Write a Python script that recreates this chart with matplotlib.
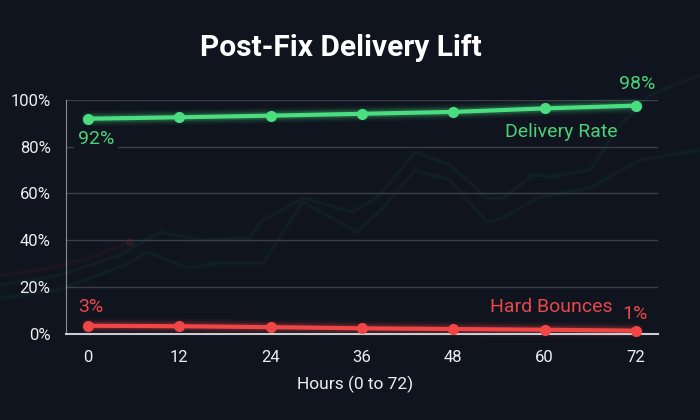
import matplotlib
matplotlib.use('Agg')
import matplotlib.pyplot as plt
import numpy as np

# chart data
hours = [0, 12, 24, 36, 48, 60, 72]
delivery_rate = [92, 92.6, 93.3, 94.1, 94.9, 96.4, 97.6]
hard_bounces = [3.4, 3.2, 2.8, 2.3, 2.0, 1.7, 1.3]
y_ticks = [0, 20, 40, 60, 80, 100]

# faint decorative background lines (figure pixels)
deco_a_x = [0, 58, 125, 147, 188, 219, 250, 263, 303, 357, 383, 415, 450, 487, 503, 537, 550, 590, 640, 700]
deco_a_y = [298, 290, 265, 252, 268, 263, 263, 263, 202, 232, 208, 170, 180, 222, 218, 198, 195, 188, 160, 150]
deco_b_x = [0, 60, 120, 160, 200, 250, 260, 303, 353, 380, 415, 450, 487, 503, 533, 550, 590, 620, 650, 700]
deco_b_y = [285, 275, 255, 232, 240, 238, 222, 198, 212, 195, 152, 165, 198, 198, 175, 177, 170, 125, 95, 75]
deco_r_x = [0, 40, 90, 130]
deco_r_y = [275, 270, 258, 242]

BG = '#0f141e'
GREEN = '#4ade80'
GREEN_TXT = '#4cd07a'
RED = '#f04646'
RED_TXT = '#e8484c'
TXT = '#eceef1'

plt.rcParams['font.family'] = ['Roboto', 'DejaVu Sans']

fig = plt.figure(figsize=(7, 4.2), dpi=100, facecolor=BG)

bg = fig.add_axes([0, 0, 1, 1], zorder=-1)
bg.set_facecolor(BG)
bg.set_xlim(0, 700)
bg.set_ylim(420, 0)
bg.axis('off')
for lw, a in [(6, 0.025), (2, 0.08)]:
    bg.plot(deco_a_x, deco_a_y, color='#2f8f72', lw=lw, alpha=a)
    bg.plot(deco_b_x, deco_b_y, color='#2f8f72', lw=lw, alpha=a)
    bg.plot(deco_r_x, deco_r_y, color='#a03a3a', lw=lw, alpha=a)
bg.plot(deco_r_x[-1:], deco_r_y[-1:], 'o', color='#a03a3a', ms=5, alpha=0.15)

ax = fig.add_axes([66/700, 1 - 333.7/420, 592/700, 233.7/420])
ax.set_facecolor('none')
ax.set_xlim(-2.89, 74.9)
ax.set_ylim(0, 100)
ax.set_xticks(hours)
ax.set_yticks(y_ticks)
ax.set_yticklabels([f'{v}%' for v in y_ticks])
ax.tick_params(length=0, colors=TXT, labelsize=12)
ax.tick_params(axis='x', pad=12)
ax.tick_params(axis='y', pad=11)
ax.yaxis.grid(True, color='#3a404b', lw=1)
ax.set_axisbelow(True)
for s in ['top', 'right']:
    ax.spines[s].set_visible(False)
ax.spines['left'].set_color('#8a9099')
ax.spines['bottom'].set_color('#c9cdd3')
ax.spines['bottom'].set_linewidth(1.5)

for vals, col in [(delivery_rate, GREEN), (hard_bounces, RED)]:
    for lw, a in [(11, 0.06), (8, 0.1), (5.5, 0.18)]:
        ax.plot(hours, vals, color=col, lw=lw, alpha=a, solid_capstyle='round', clip_on=False)
    ax.plot(hours, vals, color=col, lw=3, marker='o', ms=7, clip_on=False, zorder=4)

lbl = dict(textcoords='offset pixels', ha='center', va='center', fontsize=14)
ax.annotate(f'{delivery_rate[0]:.0f}%', (hours[0], delivery_rate[0]), xytext=(8, -20), color=GREEN_TXT,
            bbox=dict(boxstyle='square,pad=0.2', fc=BG, ec='none'), zorder=5, **lbl)
ax.annotate(f'{delivery_rate[-1]:.0f}%', (hours[-1], delivery_rate[-1]), xytext=(1, 22), color=GREEN_TXT, **lbl)
ax.annotate(f'{hard_bounces[0]:.0f}%', (hours[0], hard_bounces[0]), xytext=(3, 19), color=RED_TXT, **lbl)
ax.annotate(f'{hard_bounces[-1]:.0f}%', (hours[-1], hard_bounces[-1]), xytext=(-1, 17), color=RED_TXT, **lbl)
ax.text(69.6, 86.3, 'Delivery Rate', ha='right', va='center', color=GREEN_TXT, fontsize=14)
ax.text(68.9, 11.6, 'Hard Bounces', ha='right', va='center', color=RED_TXT, fontsize=14)

fig.text(341/700, 1 - 48/420, 'Post-Fix Delivery Lift', ha='center', va='center',
         color='white', fontsize=21.5, fontweight='bold')
fig.text(355/700, 1 - 384/420, 'Hours (0 to 72)', ha='center', va='center',
         color=TXT, fontsize=12.5)

fig.savefig('out.png', dpi=100, facecolor=BG)
